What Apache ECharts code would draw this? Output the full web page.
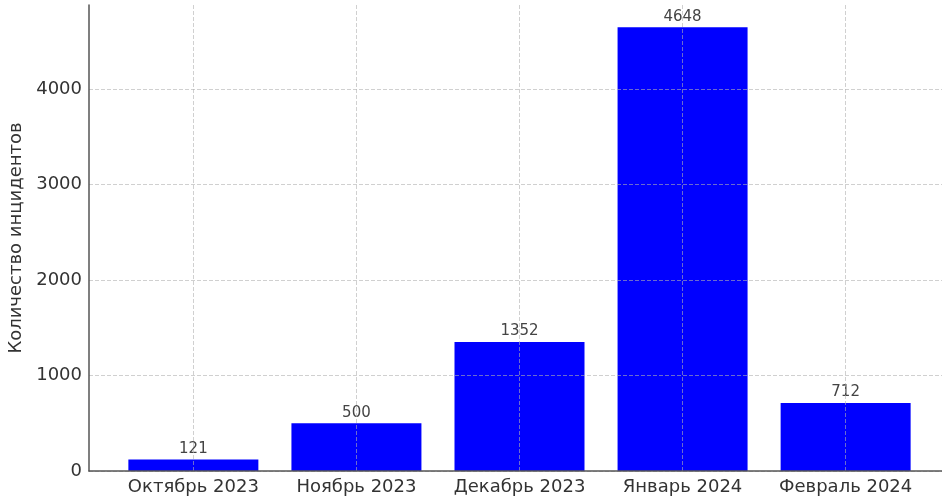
<!DOCTYPE html>
<html>
<head>
<meta charset="utf-8">
<script src="https://cdn.jsdelivr.net/npm/echarts@6/dist/echarts.min.js"></script>
<style>html,body{margin:0;padding:0;background:#fff;}#c{width:942px;height:497px;}</style>
</head>
<body>
<div id="c"></div>
<script>
const categories = ['Октябрь 2023', 'Ноябрь 2023', 'Декабрь 2023', 'Январь 2024', 'Февраль 2024'];
const values = [121, 500, 1352, 4648, 712];
const yTicks = [0, 1000, 2000, 3000, 4000];
const yAxisTitle = 'Количество инцидентов';

const positions = categories.map((c, i) => i);
const barData = values.map((v, i) => [positions[i], v]);
const font = 'DejaVu Sans';
const gridLine = { show: true, lineStyle: { color: 'rgba(176,176,176,0.6)', width: 1, type: [4, 2] } };

const chart = echarts.init(document.getElementById('c'), null, { renderer: 'canvas' });
chart.setOption({
  animation: false,
  backgroundColor: '#ffffff',
  grid: { left: 89, width: 861, top: 5, bottom: 26, containLabel: false, outerBoundsMode: 'none' },
  xAxis: {
    type: 'value',
    min: -0.64,
    max: 4.64,
    z: 5,
    axisLine: { show: true, onZero: false, lineStyle: { color: '#555', width: 1.5 } },
    axisTick: { show: false, customValues: positions },
    axisLabel: {
      customValues: positions,
      formatter: v => categories[Math.round(v)] || '',
      color: '#333', fontFamily: font, fontSize: 18, margin: 7
    },
    splitLine: gridLine
  },
  yAxis: {
    type: 'value',
    min: 0,
    max: 4880,
    z: 5,
    name: yAxisTitle,
    nameLocation: 'middle',
    nameGap: 61,
    nameTextStyle: { color: '#333', fontFamily: font, fontSize: 18 },
    axisLine: { show: true, onZero: false, lineStyle: { color: '#555', width: 1.5 } },
    axisTick: { show: false, customValues: yTicks },
    axisLabel: { customValues: yTicks, formatter: v => String(v), color: '#333', fontFamily: font, fontSize: 18, margin: 7 },
    splitLine: gridLine
  },
  series: [{
    type: 'bar',
    data: barData,
    barWidth: 130,
    itemStyle: { color: '#0000ff' },
    label: { show: true, position: 'top', distance: 3, color: '#444', fontFamily: font, fontSize: 15,
      formatter: p => String(p.value[1]) }
  }]
});
</script>
</body>
</html>
